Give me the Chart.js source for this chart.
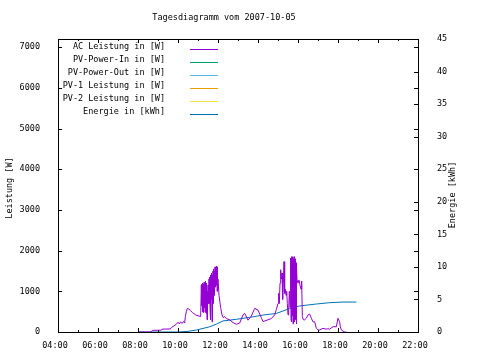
<!DOCTYPE html>
<html><head><meta charset="utf-8">
<script src="https://cdn.jsdelivr.net/npm/chart.js@4"></script>
<style>html,body{margin:0;padding:0;background:#fff}#c{display:block}</style>
</head><body>
<canvas id="c" width="480" height="360"></canvas>
<script>
const titleText = "Tagesdiagramm vom 2007-10-05";
const yLeftTitle = "Leistung [W]";
const yRightTitle = "Energie [kWh]";
const xTickHours = [4,6,8,10,12,14,16,18,20,22];
const yLeftTicks = [0,1000,2000,3000,4000,5000,6000,7000];
const yRightTicks = [0,5,10,15,20,25,30,35,40,45];

const seriesLabels = ["AC Leistung in [W]","PV-Power-In in [W]","PV-Power-Out in [W]","PV-1 Leistung in [W]","PV-2 Leistung in [W]","Energie in [kWh]"];
const seriesColors = ["#9400D3","#009E73","#56B4E9","#E69F00","#F0E442","#0072B2"];

const acTimes = ["08:03","08:40","08:43","09:10","09:12","09:37","09:40","09:48","09:55","10:00","10:04","10:08","10:12","10:17","10:20","10:22","10:25","10:28","10:33","10:38","10:43","10:48","10:53","11:00","11:08",
"11:10","11:11","11:12","11:13","11:14","11:15","11:16","11:17","11:18","11:19","11:20","11:21","11:22","11:23","11:24","11:25","11:26","11:27","11:28","11:29","11:30","11:31","11:32","11:33","11:34","11:35","11:36","11:37","11:38","11:39","11:40","11:41","11:42","11:43","11:44","11:45","11:46","11:47","11:48","11:49","11:50","11:51","11:52","11:53","11:54","11:55","11:56","11:57","11:58","12:00","12:03","12:08","12:12","12:16","12:20","12:25","12:35","12:45","12:55","13:05","13:15","13:20","13:30","13:40","13:50","14:00","14:10","14:15","14:30","14:40","14:50","14:55",
"15:00","15:02","15:04","15:06","15:08","15:10","15:12","15:14","15:16","15:18","15:20","15:22","15:24","15:26","15:28","15:30","15:32","15:34","15:36","15:38","15:39","15:40","15:41","15:42","15:43","15:44","15:45","15:46","15:47","15:48","15:49","15:50","15:51","15:52","15:53","15:54","15:55","15:56","15:57","16:00","16:03","16:06","16:09","16:11","16:13","16:16","16:20","16:25","16:30","16:35","16:40","16:45","16:50","16:55","17:00","17:05","17:15","17:25","17:30","17:35","17:45","17:55","18:00","18:05","18:07","18:10","18:15","18:20","18:25","18:35"];
const acValues = [0,0,40,45,70,75,110,150,190,240,200,250,210,260,220,380,500,580,560,520,480,450,420,400,380,
1150,650,1180,500,1200,480,1180,700,1220,600,1150,480,1250,700,1200,450,1100,300,1000,600,1150,800,700,1300,700,1350,600,1400,300,1350,800,1450,250,1400,900,1500,700,1550,900,1500,1000,1600,1100,1550,1200,1620,1150,1600,1000,1300,900,600,420,350,380,330,300,230,190,220,420,460,290,390,580,540,350,255,300,330,420,550,
700,950,700,1200,1530,1300,1450,800,1200,1730,950,1050,900,1000,700,420,550,1000,600,1815,300,1850,250,1800,400,1850,200,1800,350,1850,250,1780,300,1800,500,1700,200,1600,1280,1200,1280,1150,1050,1250,380,300,300,340,420,440,340,250,250,90,50,50,90,70,80,70,130,130,337,250,130,50,20,0,0];

const enTimes = ["08:03","10:00","10:30","10:55","11:35","11:55","12:15","12:55","13:35","14:15","14:55","15:35","16:05","16:55","17:35","18:15","18:55"];
const enValues = [0,0,0.1,0.3,0.8,1.2,1.7,1.95,2.25,2.6,2.85,3.6,4.0,4.3,4.5,4.6,4.6];

const toH = s => { const [h,m] = s.split(":").map(Number); return h + m/60; };
const pts = (ts, vs) => ts.map((t,i)=>({x:toH(t), y:vs[i]}));

const FONT = "DejaVu Sans Mono";
const FS = 8.5;

const datasets = seriesLabels.map((lab,i)=>({
  label: lab,
  data: i===0 ? pts(acTimes, acValues) : (i===5 ? pts(enTimes, enValues) : []),
  borderColor: seriesColors[i],
  backgroundColor: seriesColors[i],
  borderWidth: 1,
  pointRadius: 0,
  tension: 0,
  fill: false,
  yAxisID: i===5 ? 'y2' : 'y'
}));

const deco = {
  id: 'deco',
  afterDraw(chart){
    const {ctx, chartArea:{left,right,top,bottom}, scales} = chart;
    ctx.save();
    ctx.strokeStyle = '#000'; ctx.lineWidth = 1;
    ctx.strokeRect(Math.round(left)+0.5, Math.round(top)+0.5, Math.round(right-left), Math.round(bottom-top));
    ctx.beginPath();
    const sx = scales.x;
    for (let h = sx.min; h <= sx.max; h++) {
      const px = Math.round(sx.getPixelForValue(h))+0.5;
      const len = (h % 2 === 0) ? 4 : 2;
      ctx.moveTo(px, bottom); ctx.lineTo(px, bottom-len);
      ctx.moveTo(px, top); ctx.lineTo(px, top+len);
    }
    scales.y.ticks.forEach(t=>{
      const py = Math.round(scales.y.getPixelForValue(t.value))+0.5;
      ctx.moveTo(left, py); ctx.lineTo(left+4, py);
      ctx.moveTo(right, py); ctx.lineTo(right-4, py);
    });
    scales.y2.ticks.forEach(t=>{
      const py = Math.round(scales.y2.getPixelForValue(t.value))+0.5;
      ctx.moveTo(right, py); ctx.lineTo(right-4, py);
    });
    ctx.stroke();

    ctx.fillStyle = '#000';
    ctx.font = FS + "px '" + FONT + "'";
    ctx.textBaseline = 'middle';
    ctx.textAlign = 'center';
    ctx.fillText(titleText, 224, 18);
    ctx.save(); ctx.translate(10, 188); ctx.rotate(-Math.PI/2); ctx.fillText(yLeftTitle, 0, 0); ctx.restore();
    ctx.save(); ctx.translate(453, 195); ctx.rotate(-Math.PI/2); ctx.fillText(yRightTitle, 0, 0); ctx.restore();

    chart.data.datasets.forEach((ds,i)=>{
      const y = 47 + 13*i;
      ctx.textAlign = 'right';
      ctx.fillStyle = '#000';
      ctx.fillText(ds.label, 165, y);
      ctx.strokeStyle = ds.borderColor;
      ctx.beginPath();
      ctx.moveTo(190, y+2.5); ctx.lineTo(218, y+2.5);
      ctx.stroke();
    });
    ctx.restore();
  }
};

const pad2 = n => (n<10?'0':'') + n;

new Chart(document.getElementById('c'), {
  type: 'line',
  data: { datasets },
  options: {
    responsive: false,
    animation: false,
    layout: { padding: { top: 39, left: 0, right: 0, bottom: 0 } },
    plugins: { legend: { display: false }, title: { display: false }, tooltip: { enabled: false } },
    scales: {
      x: {
        type: 'linear', min: 4, max: 22,
        afterFit: s => { s.height = 28; },
        afterBuildTicks: s => { s.ticks = xTickHours.map(v=>({value:v})); },
        ticks: { callback: v => pad2(v) + ":00", padding: 1, color: '#000', font: { family: FONT, size: FS }, maxRotation: 0, autoSkip: false, labelOffset: -3 },
        grid: { display: false }, border: { display: false }
      },
      y: {
        type: 'linear', position: 'left', min: 0, max: 7200,
        afterFit: s => { s.width = 58; },
        afterBuildTicks: s => { s.ticks = yLeftTicks.map(v=>({value:v})); },
        ticks: { callback: v => String(v), padding: 10, color: '#000', font: { family: FONT, size: FS } },
        grid: { display: false }, border: { display: false }
      },
      y2: {
        type: 'linear', position: 'right', min: 0, max: 45,
        afterFit: s => { s.width = 62; },
        afterBuildTicks: s => { s.ticks = yRightTicks.map(v=>({value:v})); },
        ticks: { callback: v => String(v), padding: 11, color: '#000', font: { family: FONT, size: FS } },
        grid: { display: false }, border: { display: false }
      }
    }
  },
  plugins: [deco]
});
</script>
</body></html>
